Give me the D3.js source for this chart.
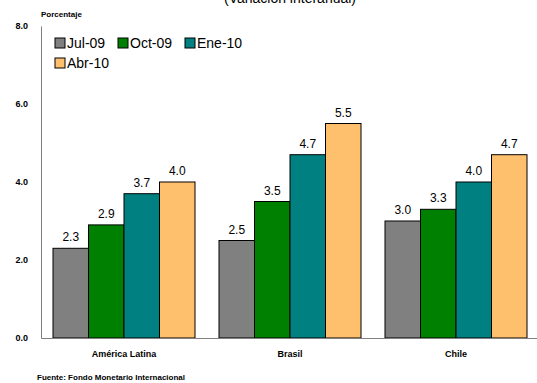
<!DOCTYPE html>
<html>
<head>
<meta charset="utf-8">
<script src="https://cdn.jsdelivr.net/npm/d3@7"></script>
<style>
  body { margin: 0; background: #fff; }
  text { font-family: "Liberation Sans", Arial, sans-serif; }
</style>
</head>
<body>
<div id="chart"></div>
<script>
const categories = ['América Latina', 'Brasil', 'Chile'];
const seriesNames = ['Jul-09', 'Oct-09', 'Ene-10', 'Abr-10'];
const seriesColors = ['#808080', '#008000', '#008080', '#FFC06E'];
const jul09 = [2.3, 2.5, 3.0];
const oct09 = [2.9, 3.5, 3.3];
const ene10 = [3.7, 4.7, 4.0];
const abr10 = [4.0, 5.5, 4.7];
const yTicks = [0, 2, 4, 6, 8];

const seriesValues = [jul09, oct09, ene10, abr10];

const width = 537;
const height = 383;
const margin = { top: 26, right: -2, bottom: 45, left: 41 };
const innerW = width - margin.left - margin.right;
const innerH = height - margin.top - margin.bottom;

const svg = d3.select('#chart')
    .append('svg')
    .attr('width', width)
    .attr('height', height);

// title, cut off at the top of the frame (as in the original)
svg.append('text')
    .attr('x', 290)
    .attr('y', 3)
    .attr('text-anchor', 'middle')
    .attr('font-size', 14)
    .text('(Variación interanual)');

const g = svg.append('g')
    .attr('transform', `translate(${margin.left},${margin.top})`);

const x0 = d3.scaleBand()
    .domain(categories)
    .range([0, innerW])
    .padding(0);

const x1 = d3.scaleBand()
    .domain(seriesNames)
    .range([12, x0.bandwidth() - 12])
    .padding(0);

const y = d3.scaleLinear()
    .domain([0, 8])
    .range([innerH, 0]);

// bars
categories.forEach((cat, ci) => {
    const grp = g.append('g').attr('transform', `translate(${x0(cat)},0)`);
    seriesNames.forEach((s, si) => {
        const v = seriesValues[si][ci];
        grp.append('rect')
            .attr('x', x1(s))
            .attr('y', y(v))
            .attr('width', x1.bandwidth())
            .attr('height', innerH - y(v))
            .attr('fill', seriesColors[si])
            .attr('stroke', '#000')
            .attr('stroke-width', 1);
        grp.append('text')
            .attr('x', x1(s) + x1.bandwidth() / 2)
            .attr('y', y(v) - 7)
            .attr('text-anchor', 'middle')
            .attr('font-size', 12)
            .text(v.toFixed(1));
    });
});

// y axis
const yAxis = g.append('g')
    .call(d3.axisLeft(y).tickValues(yTicks).tickSize(0).tickFormat(d => d.toFixed(1)));
yAxis.select('.domain').attr('stroke', '#808080');
yAxis.selectAll('text')
    .attr('x', -13)
    .attr('font-size', 9)
    .attr('font-weight', 'bold')
    .attr('font-family', '"Liberation Sans", Arial, sans-serif');

// x axis
const xAxis = g.append('g')
    .attr('transform', `translate(0,${innerH})`)
    .call(d3.axisBottom(x0).tickSize(0));
xAxis.select('.domain').attr('stroke', '#808080');
xAxis.selectAll('text')
    .attr('y', 13)
    .attr('font-size', 9)
    .attr('font-weight', 'bold')
    .attr('font-family', '"Liberation Sans", Arial, sans-serif');

svg.append('text')
    .attr('x', 41)
    .attr('y', 17)
    .attr('font-size', 8)
    .attr('font-weight', 'bold')
    .text('Porcentaje');

// legend
const legendPos = [[55, 43], [118, 43], [185, 43], [55, 63]];
seriesNames.forEach((s, i) => {
    const [lx, ly] = legendPos[i];
    svg.append('rect')
        .attr('x', lx)
        .attr('y', ly - 5)
        .attr('width', 10)
        .attr('height', 10)
        .attr('fill', seriesColors[i])
        .attr('stroke', '#000')
        .attr('stroke-width', 1);
    svg.append('text')
        .attr('x', lx + 12)
        .attr('y', ly + 5)
        .attr('font-size', 14)
        .text(s);
});

svg.append('text')
    .attr('x', 37)
    .attr('y', 380)
    .attr('font-size', 8)
    .attr('font-weight', 'bold')
    .text('Fuente: Fondo Monetario Internacional');
</script>
</body>
</html>
